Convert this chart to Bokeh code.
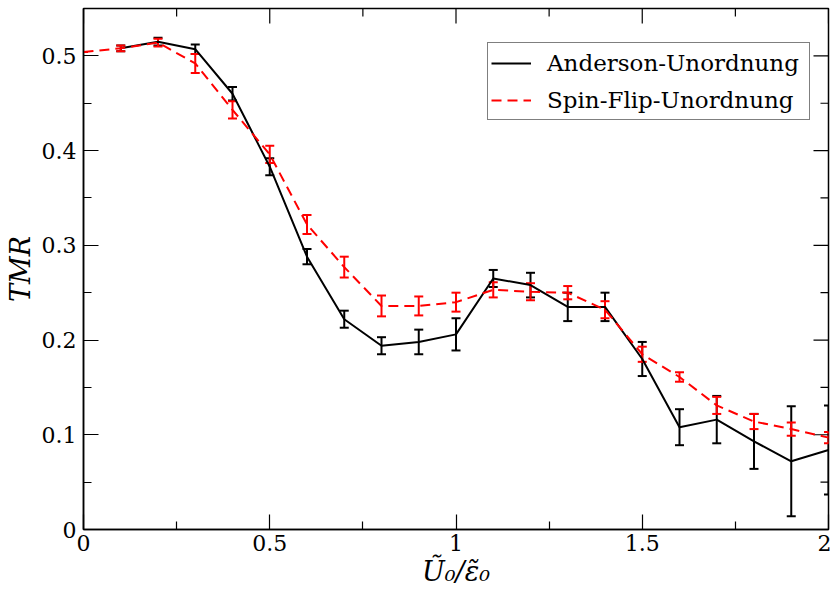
import math
from bokeh.plotting import figure
from bokeh.models import (ColumnDataSource, Whisker, TeeHead, Range1d,
                          FixedTicker, Legend, LegendItem)
from bokeh.embed import file_html
from bokeh.resources import INLINE

# ---- data ----
x_anderson = [0.1, 0.2, 0.3, 0.4, 0.5, 0.6, 0.7, 0.8, 0.9, 1.0,
              1.1, 1.2, 1.3, 1.4, 1.5, 1.6, 1.7, 1.8, 1.9, 2.0]
tmr_anderson = [0.508, 0.515, 0.507, 0.460, 0.383, 0.288, 0.222, 0.194, 0.198, 0.206,
                0.265, 0.258, 0.235, 0.235, 0.180, 0.108, 0.116, 0.093, 0.072, 0.084]
err_anderson = [0.003, 0.004, 0.005, 0.007, 0.009, 0.008, 0.009, 0.009, 0.013, 0.017,
                0.009, 0.013, 0.015, 0.015, 0.018, 0.019, 0.025, 0.029, 0.058, 0.047]

x_spinflip = [0.0, 0.1, 0.2, 0.3, 0.4, 0.5, 0.6, 0.7, 0.8, 0.9, 1.0,
              1.1, 1.2, 1.3, 1.4, 1.5, 1.6, 1.7, 1.8, 1.9, 2.0]
tmr_spinflip = [0.504, 0.508, 0.514, 0.492, 0.443, 0.396, 0.322, 0.277, 0.236, 0.236, 0.240,
                0.253, 0.251, 0.250, 0.232, 0.185, 0.161, 0.131, 0.114, 0.106, 0.097]
err_spinflip = [0.0, 0.003, 0.004, 0.010, 0.009, 0.009, 0.010, 0.011, 0.011, 0.010, 0.010,
                0.008, 0.009, 0.007, 0.009, 0.008, 0.005, 0.009, 0.008, 0.007, 0.006]

x_ticks = [0, 0.5, 1, 1.5, 2]
x_tick_labels = ["0", "0.5", "1", "1.5", "2"]
x_minor = [0.25, 0.75, 1.25, 1.75]
y_ticks = [0, 0.1, 0.2, 0.3, 0.4, 0.5]
y_tick_labels = ["0", "0.1", "0.2", "0.3", "0.4", "0.5"]
y_minor = [0.05, 0.15, 0.25, 0.35, 0.45]

X_MIN, X_MAX = 0, 2
Y_MIN, Y_MAX = 0, 0.55

label_anderson = "Anderson-Unordnung"
label_spinflip = "Spin-Flip-Unordnung"
x_title = "Ũ₀/ε̃₀"
y_title = "TMR"

FONT = "DejaVu Serif"

src_a = ColumnDataSource(dict(x=x_anderson, y=tmr_anderson,
                              lo=[v - e for v, e in zip(tmr_anderson, err_anderson)],
                              hi=[v + e for v, e in zip(tmr_anderson, err_anderson)]))
src_s = ColumnDataSource(dict(x=x_spinflip, y=tmr_spinflip,
                              lo=[v - e for v, e in zip(tmr_spinflip, err_spinflip)],
                              hi=[v + e for v, e in zip(tmr_spinflip, err_spinflip)]))

p = figure(width=831, height=601, output_backend="svg", toolbar_location=None,
           x_range=Range1d(X_MIN, X_MAX), y_range=Range1d(Y_MIN, Y_MAX),
           min_border_left=83, min_border_right=3, min_border_top=8, min_border_bottom=72)
p.xgrid.visible = False
p.ygrid.visible = False
p.outline_line_color = "black"
p.outline_line_width = 1.5
p.background_fill_color = "white"
p.border_fill_color = "white"

# inward ticks on the top and right frame edges (clipped dash markers)
tick_kw = dict(marker="dash", line_color="black", line_width=1.2, fill_color=None)
p.scatter(x=x_ticks, y=[Y_MAX] * len(x_ticks), size=30, angle=math.pi / 2, **tick_kw)
p.scatter(x=x_minor, y=[Y_MAX] * len(x_minor), size=16, angle=math.pi / 2, **tick_kw)
p.scatter(x=[X_MAX] * len(y_ticks), y=y_ticks, size=30, angle=0, **tick_kw)
p.scatter(x=[X_MAX] * len(y_minor), y=y_minor, size=16, angle=0, **tick_kw)

# black (Anderson)
ra = p.line("x", "y", source=src_a, line_color="black", line_width=2)
wa = Whisker(source=src_a, base="x", lower="lo", upper="hi", dimension="height",
             line_color="black", line_width=2,
             upper_head=TeeHead(size=9, line_color="black", line_width=2),
             lower_head=TeeHead(size=9, line_color="black", line_width=2))
p.add_layout(wa)

# red (spin flip)
rs = p.line("x", "y", source=src_s, line_color="red", line_width=2, line_dash="10 6")
ws = Whisker(source=src_s, base="x", lower="lo", upper="hi", dimension="height",
             line_color="red", line_width=2,
             upper_head=TeeHead(size=9, line_color="red", line_width=2),
             lower_head=TeeHead(size=9, line_color="red", line_width=2))
p.add_layout(ws)

for ax in (p.xaxis[0], p.yaxis[0]):
    ax.axis_line_color = "black"
    ax.axis_line_width = 1.5
    ax.major_tick_in = 15
    ax.major_tick_out = 0
    ax.minor_tick_in = 8
    ax.minor_tick_out = 0
    ax.major_tick_line_width = 1.2
    ax.minor_tick_line_width = 1.2
    ax.major_label_text_font = FONT
    ax.major_label_text_font_size = "22px"
    ax.major_label_text_color = "black"
    ax.axis_label_text_font = FONT
    ax.axis_label_text_font_size = "27px"
    ax.axis_label_text_font_style = "italic"
    ax.axis_label_text_color = "black"

p.xaxis.ticker = FixedTicker(ticks=x_ticks, minor_ticks=x_minor)
p.yaxis.ticker = FixedTicker(ticks=y_ticks, minor_ticks=y_minor)
p.xaxis.major_label_overrides = dict(zip(x_ticks, x_tick_labels))
p.yaxis.major_label_overrides = dict(zip(y_ticks, y_tick_labels))
p.xaxis.major_label_standoff = 5
p.yaxis.major_label_standoff = 7

p.xaxis.axis_label = x_title
p.xaxis.axis_label_standoff = 2
p.yaxis.axis_label = y_title
p.yaxis.axis_label_standoff = 3

legend = Legend(items=[LegendItem(label=label_anderson, renderers=[ra]),
                       LegendItem(label=label_spinflip, renderers=[rs])],
                location=(404, 409))
legend.label_text_font = FONT
legend.label_text_font_size = "23px"
legend.label_text_color = "black"
legend.glyph_width = 40
legend.glyph_height = 30
legend.label_height = 33
legend.label_width = 259
legend.spacing = 4
legend.padding = 3
legend.margin = 0
legend.label_standoff = 16
legend.border_line_color = "black"
legend.border_line_width = 1.5
legend.background_fill_alpha = 1
p.add_layout(legend, "center")

open("out.html", "w").write(file_html(p, INLINE))
